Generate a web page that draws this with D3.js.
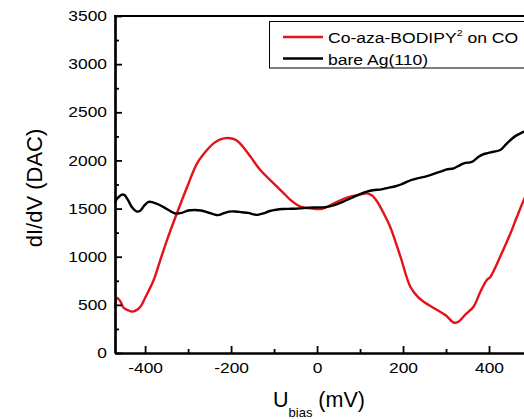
<!DOCTYPE html>
<html>
<head>
<meta charset="utf-8">
<script src="https://cdn.jsdelivr.net/npm/d3@7"></script>
<style>
  body { margin: 0; background: #fff; }
  text { font-family: "Liberation Sans", Arial, sans-serif; fill: #000; }
</style>
</head>
<body>
<div id="chartbox"></div>
<script>
// bias (mV), dI/dV (DAC)
var redBias = [-470,-465,-458,-450,-440,-430,-420,-411,-398,-380,-365,-349,-326,-302,-279,-256,-240,-225,-212,-198,-186,-172,-155,-132,-101,-80,-62,-45,-30,-16,8,20,39,77,100,116,128,140,155,170,194,217,235,248,279,300,318,329,345,364,380,395,403,426,450,465,482,495];
var redVal  = [470,571,540,470,445,430,445,481,590,758,960,1173,1451,1727,1970,2108,2180,2219,2232,2228,2205,2140,2040,1900,1762,1670,1590,1535,1510,1502,1495,1510,1554,1623,1645,1658,1635,1571,1450,1311,1000,688,580,533,447,390,315,325,400,481,637,758,790,1000,1243,1415,1600,1720];

var blackBias = [-470,-466,-460,-454,-448,-440,-430,-420,-412,-402,-392,-382,-370,-355,-340,-328,-315,-300,-285,-270,-255,-240,-230,-218,-205,-190,-175,-160,-148,-138,-125,-110,-95,-80,-60,-40,-20,0,20,40,60,80,100,116,130,150,165,178,195,210,222,233,250,265,287,300,318,333,345,356,364,375,385,395,410,426,440,450,462,473,482,495];
var blackVal  = [1560,1600,1625,1645,1640,1590,1510,1470,1475,1530,1570,1565,1545,1510,1470,1448,1455,1480,1485,1480,1462,1440,1432,1450,1468,1470,1462,1455,1440,1435,1450,1475,1488,1495,1498,1502,1510,1512,1515,1535,1570,1610,1650,1675,1690,1700,1715,1727,1750,1780,1800,1814,1830,1850,1883,1905,1918,1952,1975,1980,1995,2035,2060,2074,2090,2108,2170,2212,2255,2281,2298,2310];

var xTicks = [-400,-200,0,200,400];
var xMinor = [-300,-100,100,300];
var yTicks = [0,500,1000,1500,2000,2500,3000,3500];
var yMinor = [250,750,1250,1750,2250,2750,3250];
var legendNames = ["Co-aza-BODIPY", "bare Ag(110)"];
var colors = ["#e3121b", "#000000"];

const width = 524, height = 419;
var sx = 1.2; // tick labels look stretched sideways
var plain = function(d){ return String(d); };

var svg = d3.select('#chartbox').append('svg')
  .attr('width', width).attr('height', height);

var x = d3.scaleLinear().domain([-470, 500]).range([115, 532]);
var y = d3.scaleLinear().domain([0, 3500]).range([353, 16]);

var line = d3.line()
  .x(function(d){ return x(d[0]); })
  .y(function(d){ return y(d[1]); })
  .curve(d3.curveCatmullRom);

var redData = redBias.map(function(b, i){ return [b, redVal[i]]; });
var blackData = blackBias.map(function(b, i){ return [b, blackVal[i]]; });

svg.append('path').datum(redData).attr('d', line)
  .attr('fill', 'none').attr('stroke', colors[0]).attr('stroke-width', 2.4);
svg.append('path').datum(blackData).attr('d', line)
  .attr('fill', 'none').attr('stroke', colors[1]).attr('stroke-width', 2.4);

// axes, ticks inside
var yAxis = d3.axisLeft(y).tickValues(yTicks).tickFormat(plain).tickSizeInner(-7).tickSizeOuter(0).tickPadding(0);
var gy = svg.append('g').attr('transform', 'translate(115,0)').call(yAxis);
gy.selectAll('text').attr('x', -8 / sx).attr('transform', 'scale(' + sx + ',1)')
  .style('font-size', '14.5px').style('font-family', '"Liberation Sans", Arial, sans-serif');
svg.append('g').attr('transform', 'translate(115,0)')
  .call(d3.axisLeft(y).tickValues(yMinor).tickSizeInner(-4).tickSizeOuter(0).tickFormat(''));

var xAxis = d3.axisBottom(x).tickValues(xTicks).tickFormat(plain).tickSizeInner(-7).tickSizeOuter(0).tickPadding(0);
var gx = svg.append('g').attr('transform', 'translate(0,353)').call(xAxis);
gx.selectAll('text').attr('x', 0).attr('y', 20).attr('dy', 0).attr('transform', 'scale(' + sx + ',1)')
  .style('font-size', '14.5px').style('font-family', '"Liberation Sans", Arial, sans-serif');
svg.append('g').attr('transform', 'translate(0,353)')
  .call(d3.axisBottom(x).tickValues(xMinor).tickSizeInner(-4).tickSizeOuter(0).tickFormat(''));

svg.selectAll('.domain').attr('stroke-width', 2.2);
svg.selectAll('.tick line').attr('stroke-width', 1.8);

// top frame
svg.append('line').attr('x1', 114).attr('x2', width).attr('y1', 16).attr('y2', 16)
  .attr('stroke', '#000').attr('stroke-width', 2.2);

// axis titles
svg.append('text').attr('transform', 'translate(42,188) rotate(-90)')
  .attr('text-anchor', 'middle').style('font-size', '22px').text('dI/dV (DAC)');

var xt = svg.append('text').attr('x', 273).attr('y', 407).style('font-size', '21.5px');
xt.append('tspan').text('U');
xt.append('tspan').attr('dy', 10).style('font-size', '13px').text('bias');
xt.append('tspan').attr('dy', -10).text(' (mV)');

// legend
svg.append('rect').attr('x', 269.5).attr('y', 21.5).attr('width', 300).attr('height', 46.5)
  .attr('fill', '#fff').attr('stroke', '#000').attr('stroke-width', 1);
var lg = svg.append('g');
[0, 1].forEach(function(i){
  var ly = 37 + i * 21.5;
  lg.append('line').attr('x1', 283).attr('x2', 323).attr('y1', ly).attr('y2', ly)
    .attr('stroke', colors[i]).attr('stroke-width', 2.4);
  var t = lg.append('text').attr('transform', 'translate(328,' + (ly + 6) + ') scale(1.17,1)')
    .style('font-size', '15px');
  t.append('tspan').text(legendNames[i]);
  if (i === 0) {
    t.append('tspan').attr('dy', -7).style('font-size', '9px').text('2');
    t.append('tspan').attr('dy', 7).text(' on CO');
  }
});
</script>
</body>
</html>
